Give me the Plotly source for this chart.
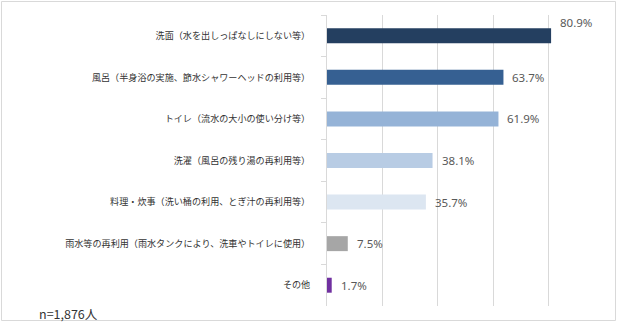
import plotly.graph_objects as go

categories = [
    "洗面（水を出しっぱなしにしない等）",
    "風呂（半身浴の実施、節水シャワーヘッドの利用等）",
    "トイレ（流水の大小の使い分け等）",
    "洗濯（風呂の残り湯の再利用等）",
    "料理・炊事（洗い桶の利用、とぎ汁の再利用等）",
    "雨水等の再利用（雨水タンクにより、洗車やトイレに使用）",
    "その他",
]
values = [80.9, 63.7, 61.9, 38.1, 35.7, 7.5, 1.7]
value_labels = ["80.9%", "63.7%", "61.9%", "38.1%", "35.7%", "7.5%", "1.7%"]
colors = ["#243F60", "#366092", "#95B3D7", "#B8CCE4", "#DCE6F1", "#A6A6A6", "#7030A0"]
note = "n=1,876人"

W, H = 619, 325
L, R, T, B = 327, 15, 15, 19
pw, ph = W - L - R, H - T - B

fig = go.Figure(go.Bar(
    x=values, y=categories, orientation="h",
    marker=dict(color=colors, line=dict(width=0)),
    hoverinfo="skip",
))

for i, (v, c, lab) in enumerate(zip(values, categories, value_labels)):
    fig.add_annotation(
        x=v, y=c, text=lab, showarrow=False, xanchor="left",
        xshift=7, yshift=13 if i == 0 else 0,
        font=dict(family="Noto Sans, Arial", size=11.5, color="#595959"),
    )

fig.add_annotation(
    x=(37 - L) / pw, y=(H - B - 313) / ph, xref="paper", yref="paper",
    text=note, showarrow=False, xanchor="left", yanchor="middle",
    font=dict(family="Noto Sans CJK JP", size=12.5, color="#333333"),
)

fig.add_shape(
    type="rect", xref="paper", yref="paper",
    x0=(1.5 - L) / pw, x1=(615.5 - L) / pw,
    y0=(H - B - 320.5) / ph, y1=(H - B - 1.5) / ph,
    line=dict(color="#D9D9D9", width=1), fillcolor="rgba(0,0,0,0)", layer="below",
)

fig.update_layout(
    width=W, height=H,
    margin=dict(l=L, r=R, t=T, b=B),
    paper_bgcolor="white", plot_bgcolor="white",
    bargap=0.64, showlegend=False,
    font=dict(family="Noto Sans CJK JP", color="#333333"),
)
fig.update_xaxes(
    range=[0, 100], dtick=20, showticklabels=False, showgrid=True,
    gridcolor="#D9D9D9", gridwidth=1, zeroline=False, showline=False, ticks="",
)
fig.update_yaxes(
    autorange="reversed", showline=True, linecolor="#D9D9D9", linewidth=1,
    ticks="outside", ticklen=5, tickcolor="#D9D9D9", tickson="boundaries",
    tickfont=dict(family="Noto Sans CJK JP", size=9.1, color="#333333"),
    ticklabelstandoff=14, showgrid=False,
)

fig.write_html("out.html")
